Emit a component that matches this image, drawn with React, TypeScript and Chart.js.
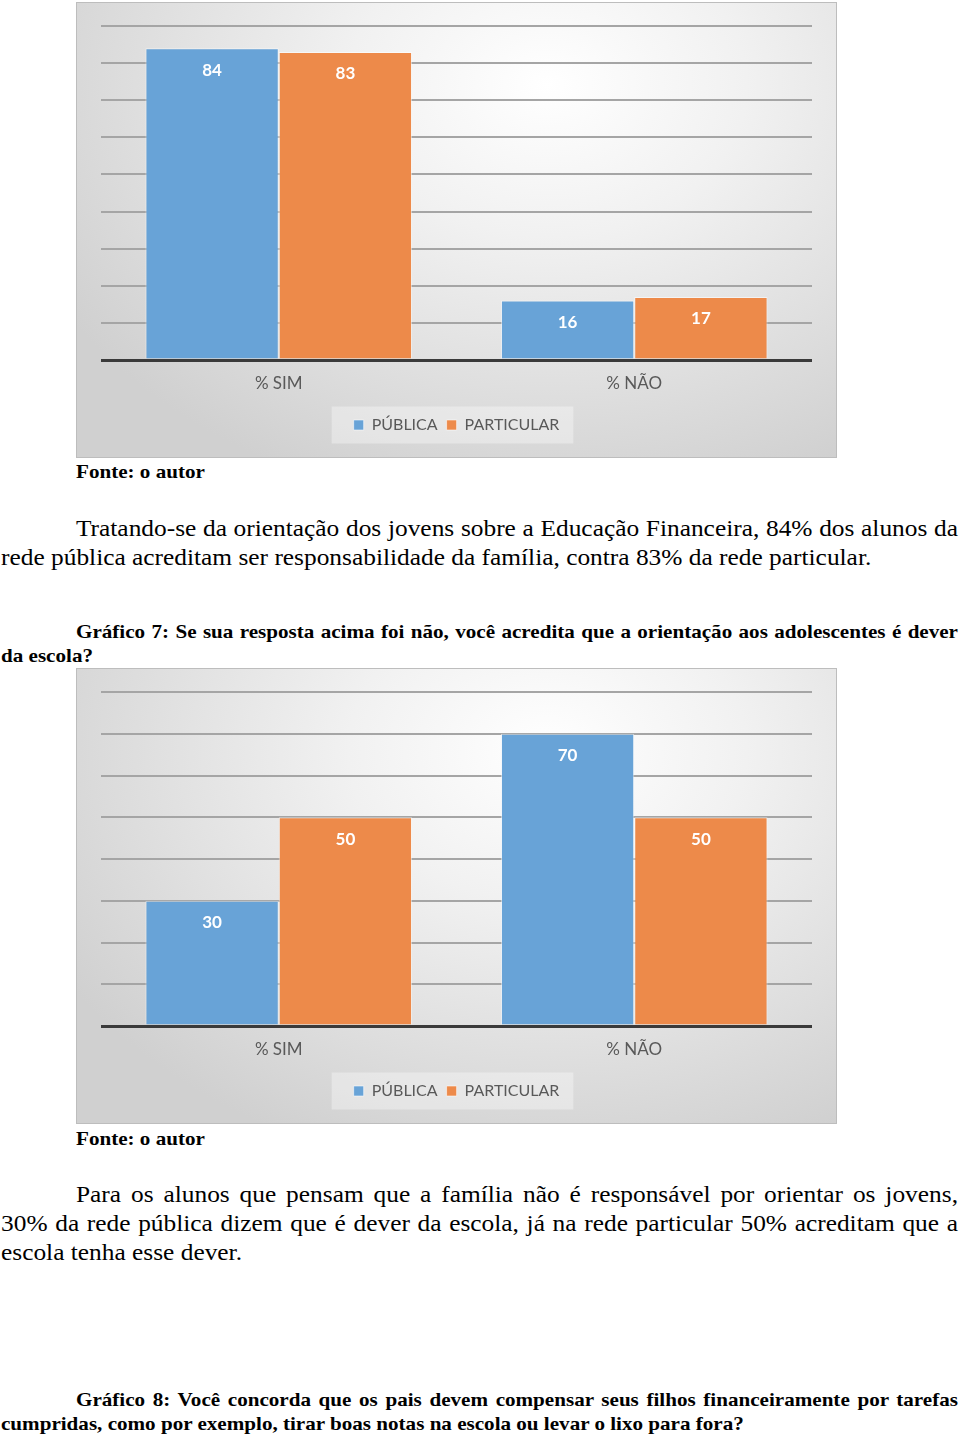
import React, { useEffect, useRef } from "react";
import { Chart, registerables } from "chart.js";

Chart.register(...registerables);

// ---- data ----
const categories = ["% SIM", "% NÃO"];
const seriesLabels = ["PÚBLICA", "PARTICULAR"];
const chart6Publica = [84, 16];
const chart6Particular = [83, 17];
const chart6Max = 90;
const chart7Publica = [30, 70];
const chart7Particular = [50, 50];
const chart7Max = 80;
const gridStep = 10;

const BLUE = "#68a3d7";
const ORANGE = "#ed8a4a";

const valueLabelPlugin = {
  id: "valueLabels",
  afterDatasetsDraw(chart: any) {
    const ctx = chart.ctx;
    ctx.save();
    ctx.fillStyle = "#ffffff";
    ctx.font = "bold 17px Lato";
    ctx.textAlign = "center";
    ctx.textBaseline = "middle";
    chart.data.datasets.forEach((ds: any, di: number) => {
      const meta = chart.getDatasetMeta(di);
      meta.data.forEach((el: any, i: number) => {
        ctx.fillText(String(ds.data[i]), el.x, el.y + 22);
      });
    });
    ctx.restore();
  },
};

const legendBoxPlugin = {
  id: "legendBox",
  beforeDraw(chart: any) {
    const lg = chart.legend;
    if (!lg || !lg.legendHitBoxes || !lg.legendHitBoxes.length) return;
    const hb = lg.legendHitBoxes;
    let l = Infinity, r = -Infinity, t = Infinity, b = -Infinity;
    hb.forEach((h: any) => {
      l = Math.min(l, h.left);
      r = Math.max(r, h.left + h.width);
      t = Math.min(t, h.top);
      b = Math.max(b, h.top + h.height);
    });
    const cy = (t + b) / 2;
    const ctx = chart.ctx;
    ctx.save();
    ctx.fillStyle = "rgba(255,255,255,0.35)";
    ctx.fillRect(l - 22, cy - 18.5, r - l + 36, 37);
    ctx.restore();
  },
};

function BarChart({ pub, part, yMax }: { pub: number[]; part: number[]; yMax: number }) {
  const ref = useRef<HTMLCanvasElement>(null);
  useEffect(() => {
    if (!ref.current) return;
    const chart = new Chart(ref.current, {
      type: "bar",
      data: {
        labels: categories,
        datasets: [
          {
            label: seriesLabels[0],
            data: pub,
            backgroundColor: BLUE,
            borderColor: "rgba(255,255,255,0.55)",
            borderWidth: 1,
            categoryPercentage: 0.75,
            barPercentage: 1,
          },
          {
            label: seriesLabels[1],
            data: part,
            backgroundColor: ORANGE,
            borderColor: "rgba(255,255,255,0.55)",
            borderWidth: 1,
            categoryPercentage: 0.75,
            barPercentage: 1,
          },
        ],
      },
      options: {
        animation: false,
        responsive: true,
        maintainAspectRatio: false,
        layout: { padding: { left: 24, right: 24, top: 23, bottom: 14 } },
        plugins: {
          tooltip: { enabled: false },
          legend: {
            position: "bottom",
            labels: {
              boxWidth: 10,
              boxHeight: 10,
              padding: 9,
              color: "#595959",
              font: { family: "Lato", size: 16 },
            },
          },
        },
        scales: {
          x: {
            grid: { display: false, drawTicks: false },
            border: { display: false },
            ticks: {
              color: "#595959",
              font: { family: "Lato", size: 17, lineHeight: 1 },
              padding: 15.5,
            },
          },
          y: {
            min: 0,
            max: yMax,
            border: { display: false },
            ticks: { display: false, stepSize: gridStep },
            grid: {
              drawTicks: false,
              color: (c: any) => (c.tick && c.tick.value === 0 ? "#3a3a3a" : "#a5a5a5"),
              lineWidth: (c: any) => (c.tick && c.tick.value === 0 ? 3 : 2),
            },
          },
        },
      },
      plugins: [legendBoxPlugin, valueLabelPlugin],
    } as any);
    return () => chart.destroy();
  }, [pub, part, yMax]);
  return <canvas ref={ref} />;
}

const chartBox: React.CSSProperties = {
  position: "absolute",
  left: 76,
  width: 761,
  height: 456,
  boxSizing: "border-box",
  border: "1px solid #bdbdbd",
  background:
    "radial-gradient(ellipse 75% 95% at 62% 18%, #ffffff 0%, #f1f1f1 35%, #d0d0d0 100%)",
};

const serif = '"Liberation Serif", "Times New Roman", serif';

function Lines({
  top,
  lines,
  size,
  lh,
  sx,
  bold,
}: {
  top: number;
  lines: string[];
  size: number;
  lh: number;
  sx: number;
  bold?: boolean;
}) {
  const w = 957 / sx;
  return (
    <div
      style={{
        position: "absolute",
        top,
        left: 1,
        width: w,
        transform: `scaleX(${sx})`,
        transformOrigin: "0 0",
        fontFamily: serif,
        fontSize: size,
        lineHeight: lh + "px",
        fontWeight: bold ? "bold" : "normal",
        color: "#000",
      }}
    >
      {lines.map((t, i) => (
        <div
          key={i}
          style={{
            textAlign: "justify",
            textAlignLast: i < lines.length - 1 ? "justify" : "left",
            paddingLeft: i === 0 ? 75 / sx : 0,
            whiteSpace: "nowrap",
          }}
        >
          {t}
        </div>
      ))}
    </div>
  );
}

export default function App() {
  return (
    <div style={{ position: "absolute", top: 0, left: 0, width: 960, height: 1438, background: "#fff", overflow: "hidden" }}>
      <div style={{ ...chartBox, top: 2 }}>
        <BarChart pub={chart6Publica} part={chart6Particular} yMax={chart6Max} />
      </div>
      <Lines top={461} lines={["Fonte: o autor"]} size={19} lh={22} sx={1.11} bold />
      <Lines
        top={514}
        size={23.5}
        lh={29}
        sx={1.08}
        lines={[
          "Tratando-se da orientação dos jovens sobre a Educação Financeira, 84% dos alunos da",
          "rede pública acreditam ser responsabilidade da família, contra 83% da rede particular.",
        ]}
      />
      <Lines
        top={620}
        size={19}
        lh={24}
        sx={1.11}
        bold
        lines={[
          "Gráfico 7: Se sua resposta acima foi não, você acredita que a orientação aos adolescentes é dever",
          "da escola?",
        ]}
      />
      <div style={{ ...chartBox, top: 668 }}>
        <BarChart pub={chart7Publica} part={chart7Particular} yMax={chart7Max} />
      </div>
      <Lines top={1128} lines={["Fonte: o autor"]} size={19} lh={22} sx={1.11} bold />
      <Lines
        top={1180}
        size={23.5}
        lh={29}
        sx={1.08}
        lines={[
          "Para os alunos que pensam que a família não é responsável por orientar os jovens,",
          "30% da rede pública dizem que é dever da escola, já na rede particular 50% acreditam que a",
          "escola tenha esse dever.",
        ]}
      />
      <Lines
        top={1388}
        size={19}
        lh={24}
        sx={1.11}
        bold
        lines={[
          "Gráfico 8: Você concorda que os pais devem compensar seus filhos financeiramente por tarefas",
          "cumpridas, como por exemplo, tirar boas notas na escola ou levar o lixo para fora?",
        ]}
      />
    </div>
  );
}
